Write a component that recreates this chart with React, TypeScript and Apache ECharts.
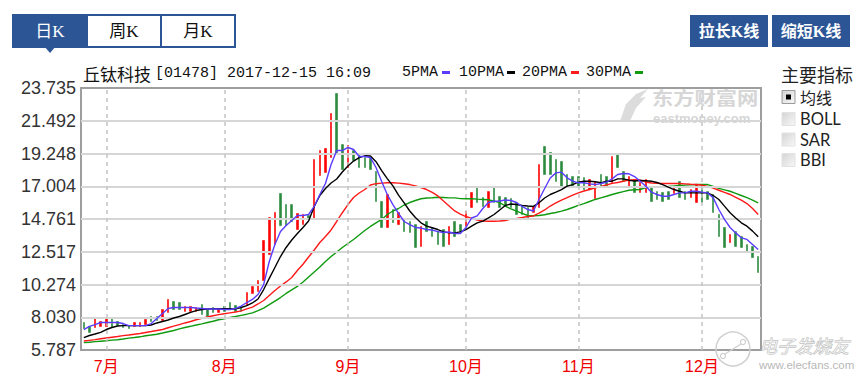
import React, { useEffect, useRef } from 'react';
import * as echarts from 'echarts';

// ---- trading days (HK market, 2017) ----
const junDays = [27, 28, 29, 30];
const julDays = [3, 4, 5, 6, 7, 10, 11, 12, 13, 14, 17, 18, 19, 20, 21, 24, 25, 26, 27, 28, 31];
const augDays = [1, 2, 3, 4, 7, 8, 9, 10, 11, 14, 15, 16, 17, 18, 21, 22, 24, 25, 28, 29, 30, 31];
const sepDays = [1, 4, 5, 6, 7, 8, 11, 12, 13, 14, 15, 18, 19, 20, 21, 22, 25, 26, 27, 28, 29];
const octDays = [3, 4, 6, 9, 10, 11, 12, 13, 16, 17, 18, 19, 20, 23, 24, 25, 26, 27, 30, 31];
const novDays = [1, 2, 3, 6, 7, 8, 9, 10, 13, 14, 15, 16, 17, 20, 21, 22, 23, 24, 27, 28, 29, 30];
const decDays = [1, 4, 5, 6, 7, 8, 11, 12, 13, 14, 15];
const monthDays: [number, number[]][] = [
  [6, junDays], [7, julDays], [8, augDays], [9, sepDays], [10, octDays], [11, novDays], [12, decDays],
];

// y axis tick labels
const yTicks = [5.787, 8.03, 10.274, 12.517, 14.761, 17.004, 19.248, 21.492, 23.735];

// K data: [open, close, low, high]
const kData: number[][] = [
  [7.67, 7.26, 7.26, 7.67], [7.40, 6.99, 6.99, 7.40], [7.33, 7.94, 7.33, 7.94], [7.40, 7.74, 7.40, 7.74], [7.40, 8.01, 7.40, 8.01],
  [8.01, 7.33, 7.33, 8.01], [7.74, 7.47, 7.47, 7.74], [7.53, 7.33, 7.33, 7.53], [7.47, 7.26, 7.26, 7.47], [7.40, 7.67, 7.40, 7.67],
  [7.40, 7.67, 7.40, 7.67], [7.53, 7.88, 7.53, 7.88], [8.08, 7.74, 7.74, 8.08], [8.08, 7.81, 7.81, 8.08], [7.81, 8.56, 7.81, 8.56],
  [8.36, 9.25, 8.36, 9.25], [9.11, 8.56, 8.56, 9.11], [9.04, 8.56, 8.56, 9.04], [8.43, 8.77, 8.43, 8.77], [8.43, 8.77, 8.43, 8.77],
  [8.43, 8.70, 8.43, 8.70], [8.90, 8.22, 8.22, 8.90], [8.56, 8.08, 8.08, 8.56], [8.70, 8.36, 8.36, 8.70], [8.36, 8.63, 8.36, 8.63],
  [8.77, 8.43, 8.43, 8.77], [9.04, 8.56, 8.56, 9.04], [8.84, 8.43, 8.43, 8.84], [8.77, 8.43, 8.43, 8.77], [8.84, 9.72, 8.84, 9.72],
  [9.66, 10.14, 9.66, 10.14], [9.80, 10.55, 9.80, 10.55], [10.55, 13.29, 10.55, 13.29], [12.33, 14.86, 12.33, 14.86], [13.01, 15.21, 13.01, 15.21],
  [16.51, 14.31, 14.31, 16.51], [15.75, 14.31, 14.31, 15.75], [15.75, 14.59, 14.59, 15.75], [14.04, 15.14, 14.04, 15.14], [14.38, 15.07, 14.38, 15.07],
  [15.00, 14.73, 14.73, 15.00], [14.73, 18.84, 14.73, 18.84], [17.74, 19.45, 17.74, 19.45], [17.95, 19.59, 17.95, 19.59], [18.97, 21.99, 18.97, 21.99],
  [23.36, 19.18, 19.18, 23.36], [19.86, 18.15, 18.15, 19.86], [18.29, 19.79, 18.29, 19.79], [19.45, 18.77, 18.77, 19.45], [19.18, 18.29, 18.29, 19.18],
  [18.97, 18.29, 18.29, 18.97], [18.97, 18.15, 18.15, 18.97], [18.01, 15.96, 15.96, 18.01], [15.96, 14.18, 14.18, 15.96], [14.18, 16.44, 14.18, 16.44],
  [15.41, 14.52, 14.52, 15.41], [14.38, 15.21, 14.38, 15.21], [14.73, 13.90, 13.90, 14.73], [14.59, 13.84, 13.84, 14.59], [14.38, 12.81, 12.81, 14.38],
  [12.88, 14.25, 12.88, 14.25], [14.59, 13.90, 13.90, 14.59], [14.18, 13.56, 13.56, 14.18], [13.90, 13.01, 13.01, 13.90], [14.04, 12.88, 12.88, 14.04],
  [13.01, 14.25, 13.01, 14.25], [14.59, 13.56, 13.56, 14.59], [14.38, 13.90, 13.90, 14.38], [14.25, 15.27, 14.25, 15.27], [15.55, 16.58, 15.55, 16.58],
  [16.92, 15.89, 15.89, 16.92], [16.23, 15.62, 15.62, 16.23], [15.55, 16.64, 15.55, 16.64], [16.92, 15.89, 15.89, 16.92], [16.30, 15.55, 15.55, 16.30],
  [16.23, 15.62, 15.62, 16.23], [16.17, 15.55, 15.55, 16.17], [15.89, 15.07, 15.07, 15.89], [15.62, 15.07, 15.07, 15.62], [15.55, 14.73, 14.73, 15.55],
  [15.21, 15.62, 15.21, 15.62], [15.55, 18.49, 15.55, 18.49], [19.73, 17.81, 17.81, 19.73], [19.32, 17.81, 17.81, 19.32], [18.84, 17.33, 17.33, 18.84],
  [18.70, 16.99, 16.99, 18.70], [17.81, 16.99, 16.99, 17.81], [17.67, 16.92, 16.92, 17.67], [17.67, 16.99, 16.99, 17.67], [17.60, 16.78, 16.78, 17.60],
  [16.78, 17.47, 16.78, 17.47], [16.16, 17.33, 16.16, 17.33], [17.81, 16.99, 16.99, 17.81], [17.67, 16.99, 16.99, 17.67], [17.26, 19.04, 17.26, 19.04],
  [19.18, 18.29, 18.29, 19.18], [18.01, 17.33, 17.33, 18.01], [16.99, 17.67, 16.99, 17.67], [17.47, 16.58, 16.58, 17.47], [16.58, 17.26, 16.58, 17.26],
  [16.58, 17.47, 16.58, 17.47], [16.92, 15.96, 15.96, 16.92], [16.64, 16.10, 16.10, 16.64], [16.58, 15.96, 15.96, 16.58], [16.64, 16.10, 16.10, 16.64],
  [16.51, 16.92, 16.51, 16.92], [17.33, 16.23, 16.23, 17.33], [16.64, 16.10, 16.10, 16.64], [16.23, 16.78, 16.23, 16.78], [15.89, 17.12, 15.89, 17.12],
  [17.12, 15.89, 15.89, 17.12], [16.64, 16.10, 16.10, 16.64], [16.44, 15.21, 15.21, 16.44], [15.07, 13.56, 13.56, 15.07], [14.18, 12.81, 12.81, 14.18],
  [13.15, 13.70, 13.15, 13.70], [13.90, 12.88, 12.88, 13.90], [13.56, 12.81, 12.81, 13.56], [13.01, 12.47, 12.47, 13.01], [12.88, 12.12, 12.12, 12.88],
  [12.19, 11.10, 11.10, 12.19],
];

const ma5 = [
  7.19, 7.40, 7.53, 7.67, 7.67, 7.67, 7.67, 7.60, 7.46, 7.46,
  7.46, 7.46, 7.60, 7.94, 8.29, 8.63, 8.70, 8.70, 8.70, 8.70,
  8.66, 8.63, 8.60, 8.60, 8.60, 8.56, 8.56, 8.63, 8.80, 9.04,
  9.25, 9.59, 10.27, 11.85, 13.01, 13.90, 14.31, 14.66, 15.00, 15.00,
  15.07, 15.62, 16.44, 17.19, 18.49, 19.45, 19.45, 19.66, 19.52, 19.04,
  19.04, 18.97, 18.29, 17.33, 16.44, 15.75, 15.14, 14.59, 14.38, 14.18,
  14.14, 14.04, 14.01, 13.90, 13.84, 13.87, 13.77, 13.77, 14.18, 14.83,
  14.97, 15.48, 15.89, 15.98, 15.99, 16.06, 16.03, 15.89, 15.62, 15.41,
  15.31, 16.10, 16.85, 17.57, 17.92, 17.97, 17.58, 17.35, 17.24, 17.24,
  17.17, 17.12, 17.19, 17.28, 17.51, 17.81, 17.88, 17.86, 17.67, 17.35,
  17.01, 16.60, 16.44, 16.32, 16.32, 16.44, 16.55, 16.55, 16.66, 16.66,
  16.60, 16.55, 16.21, 15.41, 14.73, 14.18, 13.81, 13.47, 13.36, 13.01,
  12.67,
];
const ma10 = [
  6.64, 6.78, 6.88, 6.99, 7.19, 7.33, 7.43, 7.46, 7.46, 7.46,
  7.46, 7.46, 7.50, 7.64, 7.74, 7.84, 7.98, 8.08, 8.22, 8.36,
  8.49, 8.56, 8.60, 8.61, 8.61, 8.61, 8.61, 8.60, 8.70, 8.83,
  9.01, 9.28, 9.93, 10.69, 11.44, 12.19, 12.81, 13.32, 13.77, 14.18,
  14.62, 15.62, 16.37, 16.85, 17.23, 17.50, 17.98, 18.39, 18.73, 18.97,
  19.09, 19.08, 18.69, 18.08, 17.53, 17.03, 16.40, 15.86, 15.31, 14.86,
  14.50, 14.27, 14.16, 14.04, 13.88, 13.81, 13.81, 13.88, 14.04, 14.27,
  14.50, 14.62, 14.84, 15.07, 15.38, 15.69, 15.79, 15.75, 15.69, 15.65,
  15.62, 15.87, 16.20, 16.44, 16.60, 16.78, 17.01, 17.12, 17.28, 17.35,
  17.35, 17.31, 17.24, 17.35, 17.35, 17.51, 17.51, 17.42, 17.36, 17.40,
  17.38, 17.35, 17.26, 17.12, 16.95, 16.78, 16.66, 16.55, 16.55, 16.55,
  16.55, 16.55, 16.37, 16.10, 15.64, 15.19, 14.83, 14.50, 14.27, 13.93,
  13.54,
];
const ma20 = [
  6.40, 6.45, 6.50, 6.56, 6.61, 6.66, 6.71, 6.77, 6.81, 6.87,
  6.92, 6.99, 7.05, 7.12, 7.19, 7.31, 7.42, 7.53, 7.64, 7.74,
  7.86, 7.96, 8.05, 8.13, 8.21, 8.27, 8.33, 8.39, 8.47, 8.60,
  8.73, 8.94, 9.18, 9.52, 9.86, 10.17, 10.45, 10.75, 11.23, 11.66,
  12.16, 12.64, 13.15, 13.56, 14.01, 14.59, 15.19, 15.75, 16.23, 16.54,
  16.78, 17.09, 17.18, 17.22, 17.24, 17.24, 17.22, 17.18, 17.12, 17.03,
  16.92, 16.78, 16.58, 16.34, 15.99, 15.65, 15.31, 15.10, 14.93, 14.80,
  14.69, 14.62, 14.61, 14.61, 14.62, 14.66, 14.75, 14.80, 14.86, 14.93,
  14.97, 15.17, 15.38, 15.65, 15.86, 16.06, 16.23, 16.40, 16.55, 16.68,
  16.78, 16.90, 16.99, 17.09, 17.20, 17.26, 17.35, 17.42, 17.45, 17.43,
  17.30, 17.23, 17.21, 17.19, 17.19, 17.19, 17.19, 17.17, 17.14, 17.12,
  17.07, 17.00, 16.88, 16.73, 16.58, 16.44, 16.25, 16.05, 15.82, 15.48,
  15.07,
];
const ma30 = [
  6.29, 6.32, 6.36, 6.39, 6.42, 6.46, 6.49, 6.54, 6.60, 6.64,
  6.69, 6.76, 6.81, 6.87, 6.95, 7.04, 7.12, 7.23, 7.33, 7.41,
  7.50, 7.58, 7.67, 7.76, 7.86, 7.93, 8.01, 8.08, 8.16, 8.24,
  8.33, 8.49, 8.66, 8.90, 9.14, 9.38, 9.66, 9.90, 10.14, 10.45,
  10.79, 11.13, 11.47, 11.85, 12.19, 12.50, 12.81, 13.08, 13.36, 13.66,
  13.97, 14.25, 14.50, 14.73, 15.07, 15.31, 15.48, 15.72, 15.89, 16.03,
  16.15, 16.20, 16.22, 16.25, 16.23, 16.21, 16.21, 16.16, 16.15, 16.15,
  16.12, 16.10, 16.08, 15.99, 15.88, 15.65, 15.45, 15.30, 15.15, 15.00,
  14.98, 15.00, 15.05, 15.14, 15.21, 15.30, 15.41, 15.55, 15.69, 15.82,
  15.96, 16.10, 16.21, 16.32, 16.44, 16.54, 16.64, 16.73, 16.76, 16.78,
  16.92, 16.97, 16.97, 16.97, 16.99, 17.02, 17.06, 17.08, 17.10, 17.12,
  17.12, 17.12, 16.99, 16.86, 16.76, 16.66, 16.52, 16.37, 16.23, 16.06,
  15.87,
];

const pad = (n: number) => (n < 10 ? '0' + n : '' + n);
const categories = monthDays.flatMap(([m, days]) => days.map((d) => `2017-${pad(m)}-${pad(d)}`));
const monthStartIdx: number[] = [];
categories.forEach((c, i) => {
  if (i > 0 && c.slice(5, 7) !== categories[i - 1].slice(5, 7)) monthStartIdx.push(i);
});

const BLUE = '#2c5596';
const MONO = '"Liberation Mono", "DejaVu Sans Mono", monospace';
const CJK = '"Noto Sans CJK SC", sans-serif';

function buildOption() {
  const hLines = yTicks.slice(1, -1).map((v) => ({
    yAxis: v,
    lineStyle: { type: 'solid', color: '#d6d6d6', width: 2 },
  }));
  const vLines = monthStartIdx.map((i) => ({
    xAxis: categories[i],
    lineStyle: { type: [4, 4], color: '#c4c4c4', width: 1.5 },
  }));

  const txt = (text: string, x: number, y: number, font: string, fill: string, align = 'left', extra: any = {}, el: any = {}) => ({
    type: 'text',
    x,
    y,
    z: 10,
    ...el,
    style: { text, font, fill, align, textAlign: align, verticalAlign: 'middle', textVerticalAlign: 'middle', ...extra },
  });

  const legendItems = [
    { label: '5PMA', x: 402, color: '#5a3cff', dx: 40 },
    { label: '10PMA', x: 459, color: '#000000', dx: 48 },
    { label: '20PMA', x: 522, color: '#ff1a1a', dx: 49 },
    { label: '30PMA', x: 586, color: '#109a10', dx: 49 },
  ];

  const indicatorRows = [
    { label: '均线', y: 97, font: `16px ${CJK}` },
    { label: 'BOLL', y: 119, font: '16.5px Lato, "Noto Sans", sans-serif' },
    { label: 'SAR', y: 139.5, font: '16.5px Lato, "Noto Sans", sans-serif' },
    { label: 'BBI', y: 160, font: '16.5px Lato, "Noto Sans", sans-serif' },
  ];

  const graphic: any[] = [
    // period tabs
    { type: 'rect', z: 10, shape: { x: 13, y: 15, width: 222, height: 32 }, style: { fill: '#fff', stroke: BLUE, lineWidth: 2 } },
    { type: 'rect', z: 10, shape: { x: 13, y: 15, width: 75, height: 32 }, style: { fill: BLUE } },
    { type: 'line', z: 10, shape: { x1: 161, y1: 15, x2: 161, y2: 47 }, style: { stroke: BLUE, lineWidth: 2 } },
    { type: 'polygon', z: 10, shape: { points: [[44, 46], [56, 46], [50, 53]] }, style: { fill: BLUE } },
    txt('日K', 50, 31, `17px "Liberation Serif", ${CJK}`, '#fff', 'center'),
    txt('周K', 124, 31, `17px "Liberation Serif", ${CJK}`, '#111', 'center'),
    txt('月K', 198, 31, `17px "Liberation Serif", ${CJK}`, '#111', 'center'),
    // buttons
    { type: 'rect', z: 10, shape: { x: 690, y: 15, width: 78, height: 32 }, style: { fill: BLUE } },
    { type: 'rect', z: 10, shape: { x: 772, y: 15, width: 78, height: 32 }, style: { fill: BLUE } },
    txt('拉长K线', 729, 31, `bold 16px "Liberation Serif", ${CJK}`, '#fff', 'center'),
    txt('缩短K线', 811, 31, `bold 16px "Liberation Serif", ${CJK}`, '#fff', 'center'),
    // title
    {
      type: 'text', x: 83, y: 73, z: 10,
      style: {
        text: '{a|丘钛科技}{b|[01478] 2017-12-15 16:09}',
        verticalAlign: 'middle', textVerticalAlign: 'middle',
        rich: {
          a: { font: `17px ${CJK}`, fill: '#111', width: 72 },
          b: { font: `15px ${MONO}`, fill: '#111' },
        },
      },
    },
    // MA legend
    ...legendItems.flatMap((it) => [
      txt(it.label, it.x, 72, `15px ${MONO}`, '#111'),
      { type: 'rect', z: 10, shape: { x: it.x + it.dx, y: 71, width: 8, height: 3 }, style: { fill: it.color } },
    ]),
    // indicator panel
    txt('主要指标', 781, 74, `18px ${CJK}`, '#222'),
    ...indicatorRows.map((r, k) => ({
      type: 'rect', z: 10,
      shape: { x: 782, y: r.y - 6.5, width: 13, height: 13 },
      style: {
        fill: new echarts.graphic.LinearGradient(0, 0, 1, 1, [
          { offset: 0, color: '#d4d4d4' },
          { offset: 1, color: '#f8f8f8' },
        ]),
        stroke: k === 0 ? '#9a9a9a' : '#e2e2e2',
        lineWidth: 1,
      },
    })),
    { type: 'rect', z: 11, shape: { x: 786, y: indicatorRows[0].y - 2.5, width: 5, height: 5 }, style: { fill: '#000' } },
    ...indicatorRows.map((r) => txt(r.label, 800, r.y, r.font, '#222')),
    // eastmoney watermark
    {
      type: 'polygon', z: 1,
      shape: { points: [[620, 121], [626, 104], [636, 94], [648, 89], [640, 98], [646, 97], [636, 108], [630, 121]] },
      style: { fill: '#dcdcdc' },
    },
    txt('东方财富网', 652, 97, `bold 18px ${CJK}`, '#d6d6d6', 'left', {}, { scaleX: 1.18 }),
    txt('eastmoney.com', 653, 118, 'bold 13px "Liberation Sans", sans-serif', '#d6d6d6'),
    // elecfans watermark
    { type: 'circle', z: 12, shape: { cx: 733, cy: 349, r: 17 }, style: { fill: 'none', stroke: '#cfcfcf', lineWidth: 1.5 } },
    { type: 'circle', z: 12, shape: { cx: 723, cy: 356, r: 2.5 }, style: { fill: '#fff', stroke: '#cfcfcf', lineWidth: 1.2 } },
    { type: 'circle', z: 12, shape: { cx: 743, cy: 342, r: 2.5 }, style: { fill: '#fff', stroke: '#cfcfcf', lineWidth: 1.2 } },
    { type: 'line', z: 12, shape: { x1: 725, y1: 354, x2: 741, y2: 344 }, style: { stroke: '#cfcfcf', lineWidth: 1.2 } },
    txt('电子发烧友', 759, 345, `italic 18px ${CJK}`, 'rgba(255,255,255,0.6)', 'left', { stroke: '#b4b4b4', lineWidth: 0.8 }),
    txt('www.elecfans.com', 759, 365, '11.5px "Liberation Sans", sans-serif', '#b8b8b8'),
  ];

  const maSeries = [
    { name: '5PMA', data: ma5, color: '#5a3cff' },
    { name: '10PMA', data: ma10, color: '#000000' },
    { name: '20PMA', data: ma20, color: '#ff1a1a' },
    { name: '30PMA', data: ma30, color: '#109a10' },
  ].map((s, k) => ({
    type: 'line',
    name: s.name,
    data: s.data,
    symbol: 'none',
    showSymbol: false,
    silent: true,
    z: 6 - k,
    lineStyle: { color: s.color, width: 1.4 },
    itemStyle: { color: s.color },
  }));

  return {
    animation: false,
    backgroundColor: '#ffffff',
    grid: {
      left: 81,
      top: 88,
      width: 680,
      height: 262,
      show: true,
      borderColor: '#9e9e9e',
      borderWidth: 2,
      backgroundColor: '#ffffff',
    },
    xAxis: {
      type: 'category',
      data: categories,
      boundaryGap: true,
      axisLine: { show: false },
      axisTick: { show: false },
      splitLine: { show: false },
      axisLabel: {
        interval: (i: number) => monthStartIdx.includes(i),
        formatter: (v: string) => `${parseInt(v.slice(5, 7), 10)}月`,
        color: '#f00000',
        fontSize: 16,
        fontFamily: `"Liberation Sans", ${CJK}`,
        margin: 8,
      },
    },
    yAxis: {
      type: 'value',
      min: 5.787,
      max: 23.735,
      axisLine: { show: false },
      axisTick: { show: false, customValues: yTicks },
      splitLine: { show: false },
      axisLabel: {
        customValues: yTicks,
        formatter: (v: number) => v.toFixed(3),
        color: '#333333',
        fontSize: 18,
        fontFamily: '"Liberation Sans", Arial, sans-serif',
        margin: 5,
      },
    },
    graphic,
    series: [
      {
        type: 'line',
        data: [],
        silent: true,
        z: 1,
        markLine: {
          silent: true,
          symbol: ['none', 'none'],
          label: { show: false },
          animation: false,
          data: [...hLines, ...vLines],
        },
      },
      {
        type: 'candlestick',
        data: kData,
        barWidth: 2,
        silent: true,
        z: 2,
        itemStyle: {
          color: '#ff0000',
          color0: '#2b8a3e',
          borderColor: '#ff0000',
          borderColor0: '#2b8a3e',
          borderWidth: 0.6,
        },
      },
      ...maSeries,
    ],
  };
}

export default function App() {
  const ref = useRef<HTMLDivElement>(null);
  useEffect(() => {
    if (!ref.current) return;
    const chart = echarts.init(ref.current, undefined, { renderer: 'svg' });
    chart.setOption(buildOption() as any);
    return () => chart.dispose();
  }, []);
  return (
    <div
      ref={ref}
      style={{ position: 'fixed', left: 0, top: 0, width: 864, height: 380, background: '#fff' }}
    />
  );
}
